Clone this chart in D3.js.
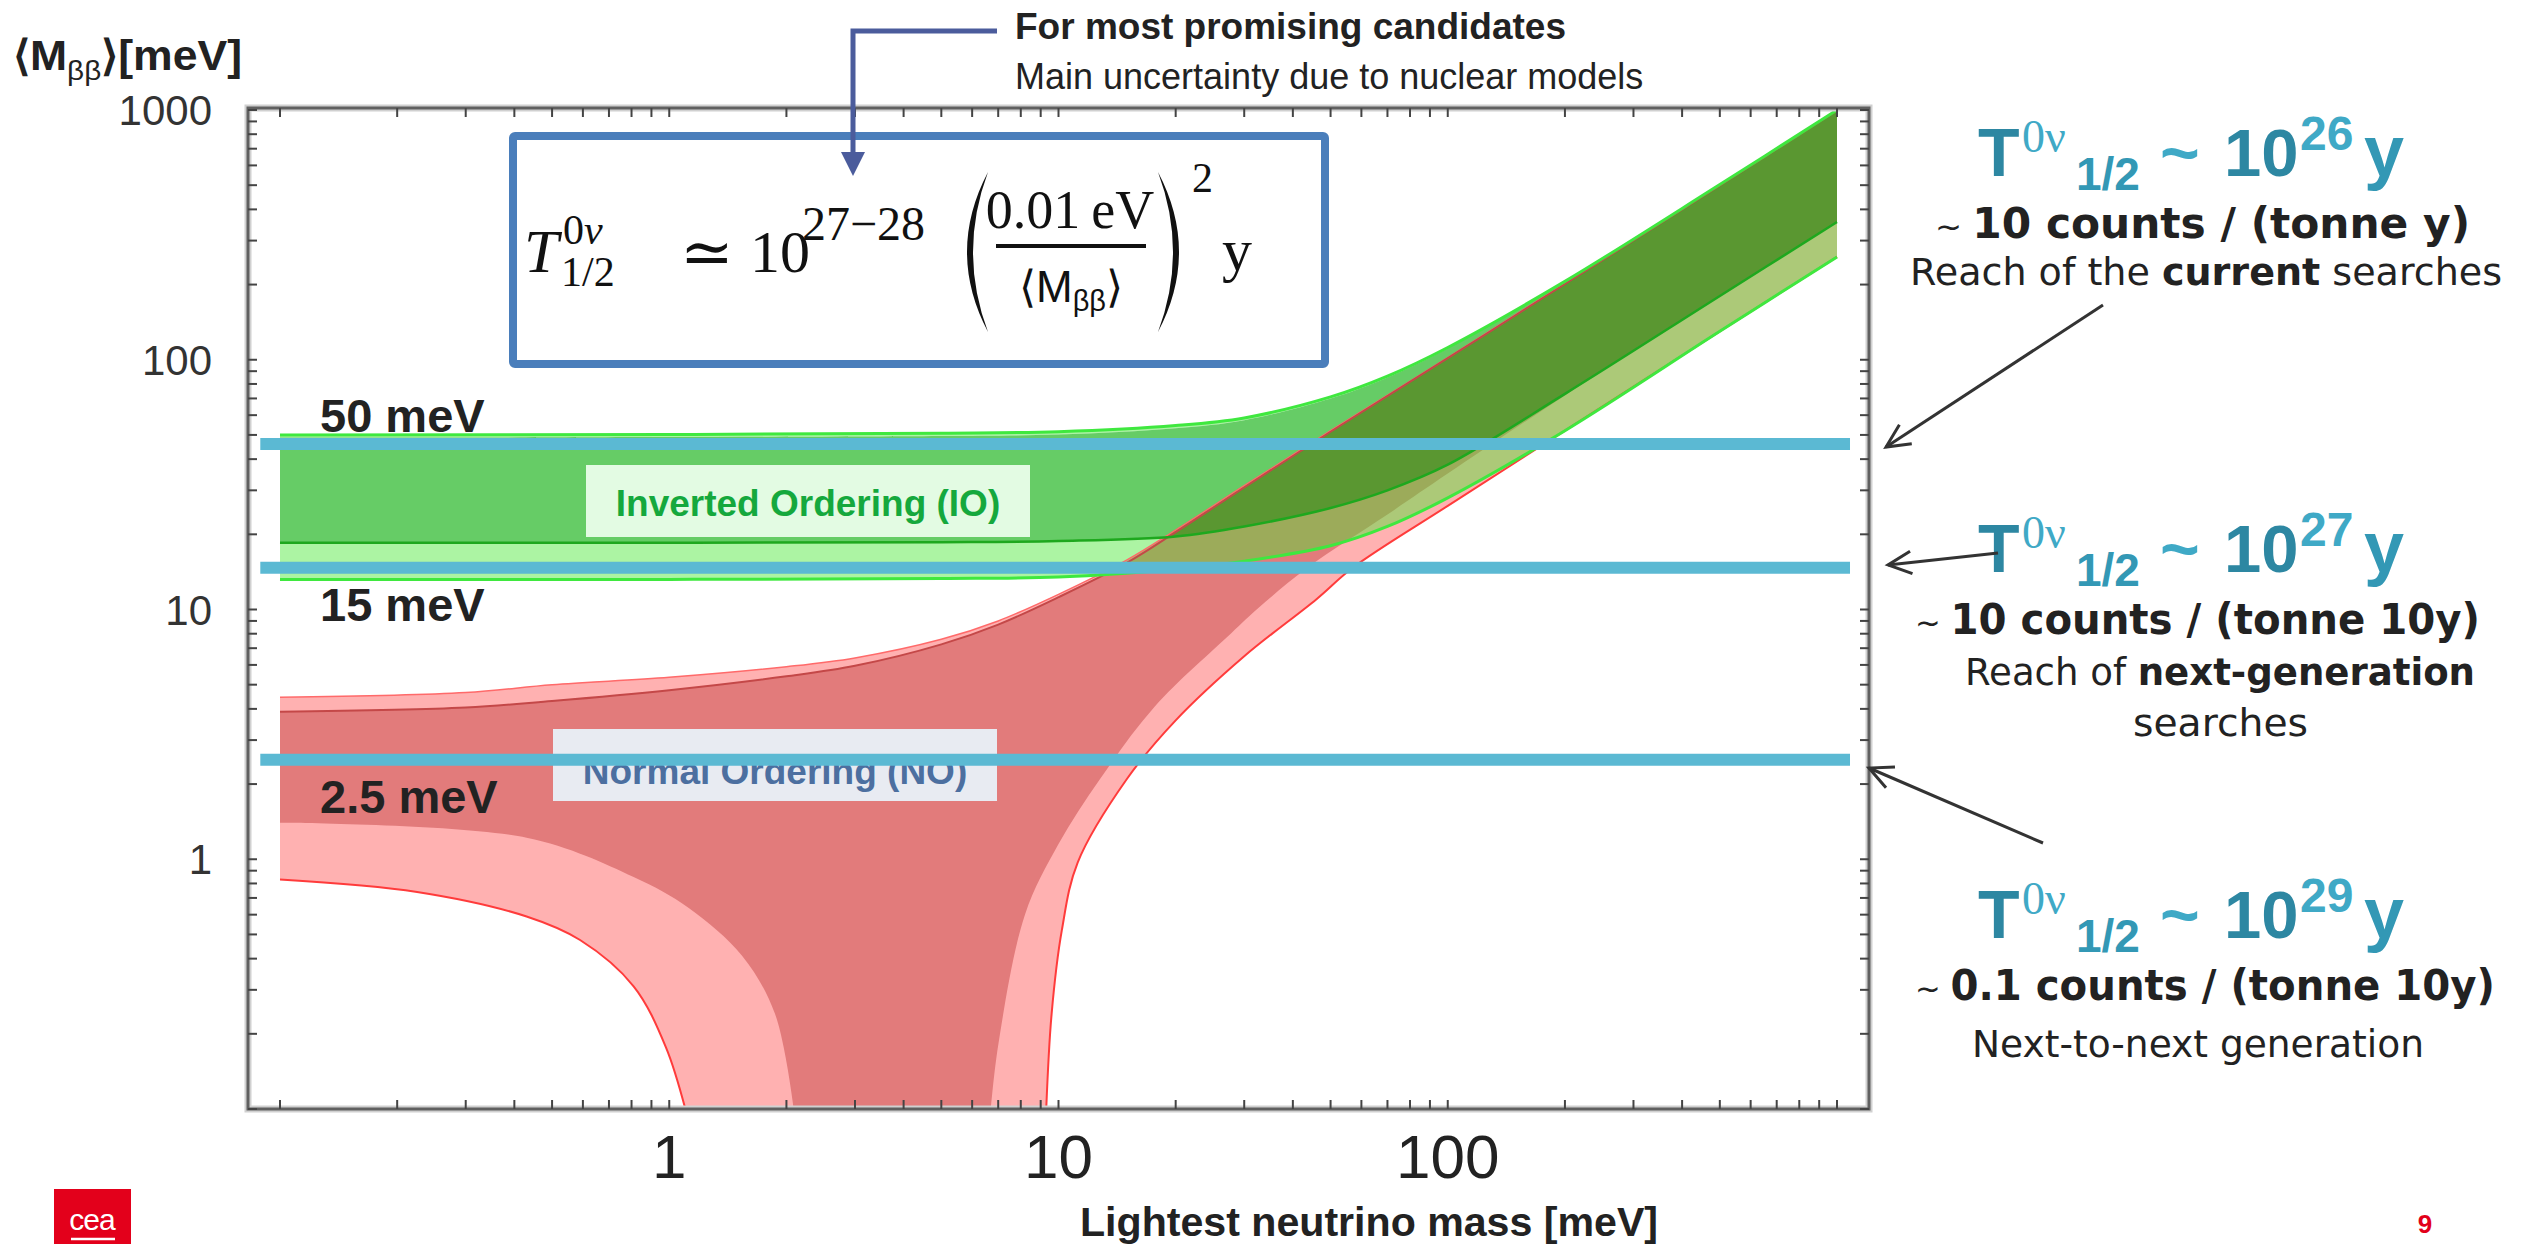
<!DOCTYPE html>
<html>
<head>
<meta charset="utf-8">
<style>
  body { margin: 0; background: #fff; }
  svg { display: block; }
</style>
</head>
<body>
<svg id="chart" width="2526" height="1244"></svg>
<script src="https://d3js.org/d3.v7.min.js"></script>
<script>
// band edges, lightest neutrino mass and <Mbb> both in meV
var ioMass   = [0.1, 1, 5, 10, 20, 30, 50, 70, 100, 200, 500, 1000];
var ioUpper3 = [50, 50.2, 50.8, 51.5, 54.5, 58.5, 71, 86, 112, 206, 503, 1000];
var ioUpper1 = [48.8, 49, 49.5, 50.2, 53.2, 57.3, 70, 85, 111, 205, 502, 999];
var ioLower1 = [18.5, 18.5, 18.6, 18.8, 19.6, 21.5, 25.5, 30, 38, 73, 180, 356];
var ioLower3 = [13.2, 13.2, 13.3, 13.5, 14.5, 15.6, 18, 21.5, 28, 52, 130, 258];

var noMass   = [0.1, 0.3, 0.5, 1, 2, 3, 5, 7, 10, 15, 20, 30, 50, 100, 200, 500, 1000];
var noUpper3 = [4.45, 4.65, 5.0, 5.35, 5.9, 6.4, 7.6, 9.0, 11.5, 15.8, 20.8, 31.3, 52, 102, 202, 501, 1000];
var noUpper1 = [3.9, 4.05, 4.3, 4.75, 5.4, 5.95, 7.25, 8.7, 11.2, 15.4, 20.4, 30.8, 51.5, 101.5, 201, 499, 996];

var noLower1LeftMass  = [0.1, 0.43, 0.81, 1.12, 1.54, 1.87, 2.09];
var noLower1Left      = [1.4, 1.22, 0.85, 0.64, 0.41, 0.24, 0.1];
var noLower1RightMass = [6.7, 7, 8.2, 10, 12.8, 17.7, 27.7, 33, 43.6, 70, 100, 200, 500, 1000];
var noLower1Right     = [0.1, 0.18, 0.6, 1.15, 2.1, 4.1, 8.0, 10.3, 14.7, 24, 35, 72, 180, 356];
var noLower3LeftMass  = [0.1, 0.225, 0.43, 0.59, 0.81, 0.98, 1.1];
var noLower3Left      = [0.83, 0.74, 0.59, 0.475, 0.31, 0.177, 0.1];
var noLower3RightMass = [9.3, 9.6, 10.2, 11.2, 15, 20, 30, 46, 57, 100, 200, 500, 1000];
var noLower3Right     = [0.1, 0.24, 0.52, 0.97, 2.1, 3.6, 6.5, 11, 14.7, 26, 52, 130, 258];

// sensitivity lines (meV) and their horizontal reach
var reachValues = [46, 14.7, 2.5];
var reachLabels = ["50 meV", "15 meV", "2.5 meV"];
var reachSpan = [0.089, 1080];

var xTickLabels = [1, 10, 100];
var yTickLabels = [1, 10, 100, 1000];

var exponents = ["26", "27", "29"];

var sans = "'Liberation Sans', Arial, sans-serif";
var serif = "'Liberation Serif', 'DejaVu Serif', serif";
var wide = "'DejaVu Sans', Verdana, sans-serif";

var svg = d3.select("#chart");

var x = d3.scaleLog().domain([0.1, 1000]).range([280, 1837]);
var y = d3.scaleLog().domain([0.1, 1000]).range([1109, 110]);

var frame = { left: 248, right: 1869, top: 108, bottom: 1109 };

function zip(a, b) {
  return a.map(function(d, i) { return [d, b[i]]; });
}

var lineGen = d3.line()
  .x(function(d) { return x(d[0]); })
  .y(function(d) { return y(d[1]); })
  .curve(d3.curveCatmullRom.alpha(0.5));

// closed band: top edge left->right, then the bottom parts already reversed
function bandPath(top, bottoms) {
  var p = lineGen(top);
  bottoms.forEach(function(part) {
    p += "L" + lineGen(part).slice(1);
  });
  return p + "Z";
}

var rev = function(a) { return a.slice().reverse(); };

svg.append("clipPath").attr("id", "plotclip")
  .append("rect")
  .attr("x", frame.left).attr("y", frame.top)
  .attr("width", frame.right - frame.left).attr("height", frame.bottom - frame.top);

var plot = svg.append("g").attr("clip-path", "url(#plotclip)");

// normal ordering, 3 sigma then best fit
var no3 = bandPath(zip(noMass, noUpper3),
  [rev(zip(noLower3RightMass, noLower3Right)), rev(zip(noLower3LeftMass, noLower3Left))]);
var no1 = bandPath(zip(noMass, noUpper1),
  [rev(zip(noLower1RightMass, noLower1Right)), rev(zip(noLower1LeftMass, noLower1Left))]);

plot.append("path").attr("d", no3).attr("fill", "#ffb1b1");
plot.append("path").attr("d", no1).attr("fill", "#e27b7b");

// inverted ordering, semi transparent so the overlap turns olive
plot.append("path")
  .attr("d", bandPath(zip(ioMass, ioLower1), [rev(zip(ioMass, ioLower3))]))
  .attr("fill", "rgb(70,230,50)").attr("fill-opacity", 0.45);
plot.append("path")
  .attr("d", bandPath(zip(ioMass, ioUpper3), [rev(zip(ioMass, ioUpper1))]))
  .attr("fill", "rgb(70,230,50)").attr("fill-opacity", 0.45);
plot.append("path")
  .attr("d", bandPath(zip(ioMass, ioUpper1), [rev(zip(ioMass, ioLower1))]))
  .attr("fill", "rgb(0,170,0)").attr("fill-opacity", 0.6);

// edges
function edge(pts, color, w) {
  plot.append("path").attr("d", lineGen(pts))
    .attr("fill", "none").attr("stroke", color).attr("stroke-width", w);
}
edge(zip(noMass, noUpper3), "#ff6a6a", 1.5);
edge(zip(noMass, noUpper1), "#c44848", 2);
edge(zip(noLower3LeftMass, noLower3Left), "#ff3b3b", 2);
edge(zip(noLower3RightMass, noLower3Right), "#ff3b3b", 2);
edge(zip(ioMass, ioLower1), "#1ea81e", 2.5);
edge(zip(ioMass, ioUpper3), "#3fe83f", 3);
edge(zip(ioMass, ioLower3), "#3fe83f", 3);

// frame and ticks
svg.append("rect")
  .attr("x", frame.left).attr("y", frame.top)
  .attr("width", frame.right - frame.left).attr("height", frame.bottom - frame.top)
  .attr("fill", "none").attr("stroke", "#d0d0d0").attr("stroke-width", 7);
svg.append("rect")
  .attr("x", frame.left).attr("y", frame.top)
  .attr("width", frame.right - frame.left).attr("height", frame.bottom - frame.top)
  .attr("fill", "none").attr("stroke", "#606060").attr("stroke-width", 3);

var ticks = svg.append("g").attr("stroke", "#444").attr("stroke-width", 2);
x.ticks().forEach(function(t) {
  ticks.append("line").attr("x1", x(t)).attr("x2", x(t)).attr("y1", frame.bottom).attr("y2", frame.bottom - 9);
  ticks.append("line").attr("x1", x(t)).attr("x2", x(t)).attr("y1", frame.top).attr("y2", frame.top + 9);
});
y.ticks().forEach(function(t) {
  ticks.append("line").attr("y1", y(t)).attr("y2", y(t)).attr("x1", frame.left).attr("x2", frame.left + 9);
  ticks.append("line").attr("y1", y(t)).attr("y2", y(t)).attr("x1", frame.right).attr("x2", frame.right - 9);
});

svg.append("g").selectAll("text").data(xTickLabels).join("text")
  .attr("x", function(d) { return x(d); })
  .attr("y", 1178)
  .attr("text-anchor", "middle")
  .attr("font-family", sans).attr("font-size", 62).attr("fill", "#222")
  .text(function(d) { return d; });

svg.append("g").selectAll("text").data(yTickLabels).join("text")
  .attr("x", 212)
  .attr("y", function(d) { return y(d); })
  .attr("dy", "0.36em")
  .attr("text-anchor", "end")
  .attr("font-family", sans).attr("font-size", 42).attr("fill", "#333")
  .text(function(d) { return d; });

// axis titles
svg.append("text")
  .attr("x", 1369).attr("y", 1236).attr("text-anchor", "middle")
  .attr("font-family", sans).attr("font-weight", "bold").attr("font-size", 40)
  .attr("textLength", 578).attr("lengthAdjust", "spacingAndGlyphs")
  .attr("fill", "#222").text("Lightest neutrino mass [meV]");

var yt = svg.append("text").attr("x", 13).attr("y", 70)
  .attr("font-family", sans).attr("font-weight", "bold").attr("font-size", 42)
  .attr("fill", "#222").attr("textLength", 229).attr("lengthAdjust", "spacingAndGlyphs");
yt.append("tspan").text("\u27E8M");
yt.append("tspan").attr("font-size", 28).attr("font-weight", "normal").attr("dy", 10).text("\u03B2\u03B2");
yt.append("tspan").attr("dy", -10).text("\u27E9[meV]");

// ordering labels
svg.append("rect").attr("x", 586).attr("y", 465).attr("width", 444).attr("height", 72).attr("fill", "#e3fbe3");
svg.append("text").attr("x", 808).attr("y", 516).attr("text-anchor", "middle")
  .attr("font-family", sans).attr("font-weight", "bold").attr("font-size", 37)
  .attr("fill", "#15a83d").text("Inverted Ordering (IO)");
svg.append("rect").attr("x", 553).attr("y", 729).attr("width", 444).attr("height", 72).attr("fill", "#e8ebf2");
svg.append("text").attr("x", 775).attr("y", 784).attr("text-anchor", "middle")
  .attr("font-family", sans).attr("font-weight", "bold").attr("font-size", 37)
  .attr("fill", "#4c6fa0").text("Normal Ordering (NO)");

// reach lines
svg.append("g").selectAll("line").data(reachValues).join("line")
  .attr("x1", x(reachSpan[0])).attr("x2", x(reachSpan[1]))
  .attr("y1", function(d) { return y(d); }).attr("y2", function(d) { return y(d); })
  .attr("stroke", "#5bb9d3").attr("stroke-width", 12);

var labelOffsets = [-12, 53, 53];
svg.append("g").selectAll("text").data(reachValues).join("text")
  .attr("x", 320)
  .attr("y", function(d, i) { return y(d) + labelOffsets[i]; })
  .attr("font-family", sans).attr("font-weight", "bold").attr("font-size", 47)
  .attr("fill", "#222")
  .text(function(d, i) { return reachLabels[i]; });

// formula box
svg.append("rect").attr("x", 513).attr("y", 136).attr("width", 812).attr("height", 228)
  .attr("fill", "#fff").attr("stroke", "#4a7ebb").attr("stroke-width", 8).attr("rx", 2);

var f = svg.append("g").attr("font-family", serif).attr("fill", "#111");
f.append("text").attr("x", 524).attr("y", 272).attr("font-size", 62).attr("font-style", "italic").text("T");
f.append("text").attr("x", 563).attr("y", 244).attr("font-size", 42).text("0");
f.append("text").attr("x", 584).attr("y", 244).attr("font-size", 42).attr("font-style", "italic").text("\u03BD");
f.append("text").attr("x", 561).attr("y", 286).attr("font-size", 42).text("1/2");
f.append("text").attr("x", 680).attr("y", 274).attr("font-size", 64).text("\u2243");
f.append("text").attr("x", 750).attr("y", 272).attr("font-size", 60).text("10");
f.append("text").attr("x", 802).attr("y", 240).attr("font-size", 48).text("27\u221228");
f.append("path").attr("d", "M988,172 Q946,252 988,332 Q958,252 988,172Z");
f.append("path").attr("d", "M1158,172 Q1200,252 1158,332 Q1188,252 1158,172Z");
f.append("text").attr("x", 1070).attr("y", 228).attr("text-anchor", "middle").attr("font-size", 54).text("0.01\u2009eV");
f.append("line").attr("x1", 996).attr("x2", 1146).attr("y1", 246).attr("y2", 246).attr("stroke", "#111").attr("stroke-width", 4);
var den = f.append("text").attr("x", 1071).attr("y", 302).attr("text-anchor", "middle")
  .attr("font-family", sans).attr("font-size", 44);
den.append("tspan").text("\u27E8M");
den.append("tspan").attr("font-size", 29).attr("dy", 9).text("\u03B2\u03B2");
den.append("tspan").attr("dy", -9).text("\u27E9");
f.append("text").attr("x", 1192).attr("y", 192).attr("font-size", 42).text("2");
f.append("text").attr("x", 1222).attr("y", 270).attr("font-size", 60).text("y");

// callout above the box
svg.append("path").attr("d", "M997,31 L853,31 L853,154")
  .attr("fill", "none").attr("stroke", "#4b5c9c").attr("stroke-width", 5);
svg.append("path").attr("d", "M841,152 L865,152 L853,176Z").attr("fill", "#4b5c9c");
svg.append("text").attr("x", 1015).attr("y", 39)
  .attr("font-family", sans).attr("font-weight", "bold").attr("font-size", 37).attr("fill", "#222")
  .text("For most promising candidates");
svg.append("text").attr("x", 1015).attr("y", 89)
  .attr("font-family", sans).attr("font-size", 36).attr("fill", "#222")
  .text("Main uncertainty due to nuclear models");

// half-life annotations on the right
var teal = "#2d87a2", tealLight = "#3fa9c6", tealMid = "#3398b5";
function tLine(x0, base, exp) {
  var t = svg.append("text").attr("y", base).attr("font-family", sans).attr("font-weight", "bold");
  t.append("tspan").attr("x", x0).attr("font-size", 68).attr("fill", teal).text("T");
  t.append("tspan").attr("x", x0 + 44).attr("y", base - 24).attr("font-family", serif)
    .attr("font-weight", "normal").attr("font-size", 46).attr("fill", tealLight).text("0\u03BD");
  t.append("tspan").attr("x", x0 + 98).attr("y", base + 14).attr("font-size", 46).attr("fill", tealMid).text("1/2");
  t.append("tspan").attr("x", x0 + 182).attr("y", base).attr("font-size", 68).attr("fill", tealLight).text("~");
  t.append("tspan").attr("x", x0 + 246).attr("font-size", 67).attr("fill", teal).text("10");
  t.append("tspan").attr("x", x0 + 322).attr("y", base - 26).attr("font-size", 48).attr("fill", tealLight).text(exp);
  t.append("tspan").attr("x", x0 + 386).attr("y", base).attr("font-size", 72).attr("fill", tealMid).text("y");
}
tLine(1978, 176, exponents[0]);
tLine(1978, 572, exponents[1]);
tLine(1978, 938, exponents[2]);

function countLine(x0, w, base, rest) {
  var t = svg.append("text").attr("x", x0).attr("y", base).attr("font-family", wide)
    .attr("fill", "#222").attr("textLength", w).attr("lengthAdjust", "spacingAndGlyphs");
  t.append("tspan").attr("font-size", 32).text("~ ");
  t.append("tspan").attr("font-size", 42).attr("font-weight", "bold").text(rest);
}
countLine(1935, 535, 238, "10 counts / (tonne y)");
countLine(1915, 565, 634, "10 counts / (tonne 10y)");
countLine(1915, 580, 1000, "0.1 counts / (tonne 10y)");

function noteLine(x0, w, base, parts) {
  var t = svg.append("text").attr("x", x0).attr("y", base).attr("font-family", wide)
    .attr("font-size", 37).attr("fill", "#222")
    .attr("textLength", w).attr("lengthAdjust", "spacingAndGlyphs");
  parts.forEach(function(p) {
    t.append("tspan").attr("font-weight", p[1] ? "bold" : "normal").text(p[0]);
  });
}
noteLine(1910, 592, 285, [["Reach of the ", 0], ["current", 1], [" searches", 0]]);
noteLine(1965, 510, 685, [["Reach of ", 0], ["next-generation", 1]]);
noteLine(2133, 175, 736, [["searches", 0]]);
noteLine(1972, 452, 1057, [["Next-to-next generation", 0]]);

// pointer arrows
function arrow(x1, y1, x2, y2) {
  var g = svg.append("g").attr("stroke", "#333").attr("stroke-width", 3).attr("fill", "none");
  g.append("line").attr("x1", x1).attr("y1", y1).attr("x2", x2).attr("y2", y2);
  var a = Math.atan2(y1 - y2, x1 - x2), L = 26, s = 0.45;
  g.append("path").attr("d",
    "M" + (x2 + L * Math.cos(a + s)) + "," + (y2 + L * Math.sin(a + s)) +
    "L" + x2 + "," + y2 +
    "L" + (x2 + L * Math.cos(a - s)) + "," + (y2 + L * Math.sin(a - s)));
}
arrow(2103, 305, 1886, 447);
arrow(1998, 553, 1888, 565);
arrow(2043, 843, 1869, 768);

// logo and page number
svg.append("rect").attr("x", 54).attr("y", 1189).attr("width", 77).attr("height", 55).attr("fill", "#e3001b");
svg.append("text").attr("x", 92).attr("y", 1230).attr("text-anchor", "middle")
  .attr("font-family", sans).attr("font-size", 30).attr("fill", "#fff").attr("letter-spacing", -1).text("cea");
svg.append("line").attr("x1", 71).attr("x2", 115).attr("y1", 1239).attr("y2", 1239)
  .attr("stroke", "#fff").attr("stroke-width", 2.5);
svg.append("text").attr("x", 2425).attr("y", 1233).attr("text-anchor", "middle")
  .attr("font-family", sans).attr("font-weight", "bold").attr("font-size", 26).attr("fill", "#e2001a").text("9");
</script>
</body>
</html>
